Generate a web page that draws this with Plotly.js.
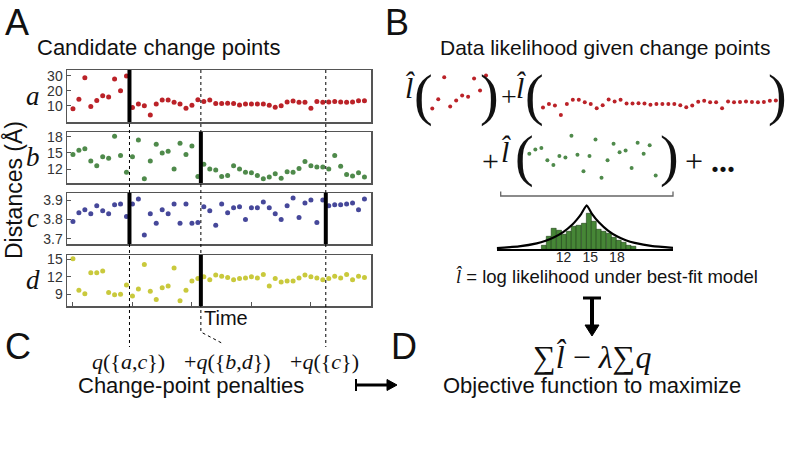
<!DOCTYPE html>
<html><head><meta charset="utf-8">
<script src="https://cdn.plot.ly/plotly-3.0.1.min.js"></script>
<style>html,body{margin:0;padding:0;background:#fff}#chart{width:793px;height:449px}</style>
</head><body><div id="chart"></div>
<script>
// ---------- data ----------
const timeIdx = [0,1,2,3,4,5,6,7,8,9,10,11,12,13,14,15,16,17,18,19,20,21,22,23,24,25,26,27,28,29,30,31,32,33,34,35,36,37,38,39,40,41,42,43,44,45,46,47,48,49];
const distA = [8.2,14.4,28.9,9.6,13.6,16.9,16,28,20.2,30, 8.9,11.3,10.2,4,11.3,14,14,12.4,11.3,8.4, 10.4,14.2,12.9,14,11.6,11.6,11.8,11.6,10.7,11.3, 11.3,11.3,11.3,10.4,9.1,10.2,12.7,13.3,12.4,12.4, 8.4,12.9,12.4,12.6,12.9,12.6,12.4,12.6,13.4,13.5];
const distB = [14.7,15.5,15.8,13.5,12.6,14.3,14,18.1,14.5,11.4, 14.3,17.4,10.2,13.5,16.6,15,15.3,12,16.8,14.7, 16.3,10.6,12.9,12,11.8,10.6,10.8,12.6,12,11.4, 11.3,10.8,10.2,10.5,11.1,10.3,11.5,11.4,12.1,13.4, 12.6,12.4,12.4,12,14.5,12.5,11,10.7,11.3,10.5];
const distC = [3.79,3.835,3.85,3.83,3.87,3.845,3.83,3.875,3.88,3.815, 3.88,3.905,3.72,3.83,3.78,3.85,3.83,3.88,3.78,3.88, 3.78,3.785,3.865,3.845,3.77,3.88,3.835,3.86,3.865,3.8, 3.86,3.86,3.89,3.86,3.83,3.8,3.87,3.91,3.81,3.885, 3.9,3.785,3.9,3.87,3.875,3.875,3.88,3.885,3.85,3.905];
const distD = [15.1,9.7,9.1,12.7,12.7,13,9.3,8.9,9,10.6, 8.7,9.9,14.1,9.5,8.1,10.1,10.4,13.5,7.9,9.7, 11.3,11.7,12,11.5,12.3,12.1,11.9,11.5,11.7,11.8, 12,11.8,12.4,10.4,11.7,11.1,11.3,11.3,11.8,12.3, 12,11.8,11.5,11.7,12.1,11.8,12.4,11.5,12.1,11.9];
const changePoints = [9.5, 21.5, 42.5];
const thickA = [9.5], thickB = [21.5], thickC = [9.5, 42.5], thickD = [21.5];
const ticksA = [10,20,30], ticksB = [12,15,18], ticksC = [3.7,3.8,3.9], ticksD = [9,12,15];
const ticksCtext = ['3.7','3.8','3.9'];
const histBins = [9.8,10.35,10.9,11.5,12.05,12.6,13.15,13.7,14.3,14.85,15.4,15.95,16.5,17.1,17.65,18.2,18.75,19.3,19.85];
const histCounts = [4,13,21,19,15,18,23,24,26,36,28,20,18,16,12,9,7,4,3];
const fitX = [4.5,7,9,10,11,12,13,13.5,14,14.6,15.2,16,17,18,19,20,22,24.3];
const fitY = [1.2,2.9,5.9,8.5,12.2,17.4,24.8,29.7,35.5,44,35.5,26.7,18.7,13,9.1,6.4,3.1,1.4];
const histTicks = [12,15,18];

// ---------- layout helpers ----------
const W = 793, H = 449;
const PX = x => x / W, PY = y => 1 - y / H;
const SANS = 'Liberation Sans, Arial, sans-serif';
const SERIF = 'Liberation Serif, Times New Roman, serif';
const RED = '#bb2228', GREEN = '#4f8a4b', BLUE = '#46489a', YELLOW = '#c9c93c';

const boxX = [PX(67), PX(371)];
const xRange = [-1, 50.1];
function leftX(anchor, withTicks) {
  return {domain: boxX, range: xRange, anchor, showgrid:false, zeroline:false, showline:true, mirror:true,
    linecolor:'#555', linewidth:1.5, showticklabels:false,
    ticks: withTicks ? 'inside' : '', tickvals: withTicks ? [0,10,20,30,40] : undefined, ticklen:4, tickcolor:'#555'};
}
function leftY(anchor, top, bot, range, tv, tt) {
  return {domain:[PY(bot), PY(top)], range, anchor, showgrid:false, zeroline:false, showline:true, mirror:true,
    linecolor:'#555', linewidth:1.5, ticks:'inside', ticklen:4, tickcolor:'#555', tickvals:tv, ticktext:tt,
    tickfont:{size:14, family:SANS, color:'#333'}};
}
function hidden(domain, range, anchor) {
  return {domain, range, anchor, visible:false, showgrid:false, zeroline:false};
}

const sc = (x, y, c, xa, ya, sz) => ({type:'scatter', mode:'markers', x, y, xaxis:xa, yaxis:ya,
  marker:{color:c, size:sz}, hoverinfo:'skip'});

const data = [
  sc(timeIdx, distA, RED, 'x', 'y', 5),
  sc(timeIdx, distB, GREEN, 'x2', 'y2', 5),
  sc(timeIdx, distC, BLUE, 'x3', 'y3', 5),
  sc(timeIdx, distD, YELLOW, 'x4', 'y4', 5),
  sc(timeIdx.slice(0,10), distA.slice(0,10), RED, 'x5', 'y5', 4),
  sc(timeIdx.slice(10), distA.slice(10), RED, 'x6', 'y6', 4),
  sc(timeIdx.slice(0,22), distB.slice(0,22), GREEN, 'x7', 'y7', 4),
  {type:'bar', x:histBins, y:histCounts, width:0.56, xaxis:'x8', yaxis:'y8',
   marker:{color:'#468636', line:{color:'#1f3f17', width:0.6}}, hoverinfo:'skip'},
  {type:'scatter', mode:'lines', x:fitX, y:fitY, xaxis:'x8', yaxis:'y8',
   line:{color:'#000', width:2.2, shape:'spline', smoothing:0.4}, hoverinfo:'skip'}
];

// ---------- shapes ----------
const shapes = [];
shapes.push({type:'line', xref:'x', yref:'paper', x0:changePoints[0], x1:changePoints[0], y0:PY(70), y1:PY(347), line:{color:'#000', width:1, dash:'dot'}});
shapes.push({type:'path', xref:'x', yref:'paper', path:`M ${changePoints[1]},${PY(70)} L ${changePoints[1]},${PY(332)} L 25,${PY(343)}`, line:{color:'#000', width:1, dash:'dot'}});
shapes.push({type:'line', xref:'x', yref:'paper', x0:changePoints[2], x1:changePoints[2], y0:PY(70), y1:PY(347), line:{color:'#000', width:1, dash:'dot'}});
[[thickA,'y'],[thickB,'y2'],[thickC,'y3'],[thickD,'y4']].forEach(([arr, ya]) => {
  arr.forEach(cp => shapes.push({type:'line', xref:'x', yref:ya+' domain', x0:cp, x1:cp, y0:0, y1:1, line:{color:'#000', width:4}}));
});
shapes.push({type:'path', xref:'paper', yref:'paper', path:`M ${PX(500.7)},${PY(191.5)} L ${PX(500.7)},${PY(196)} L ${PX(673)},${PY(196)} L ${PX(673)},${PY(191.5)}`, line:{color:'#666', width:1.3}});
shapes.push({type:'line', xref:'paper', yref:'paper', x0:PX(583), x1:PX(601), y0:PY(298), y1:PY(298), line:{color:'#000', width:3}});
shapes.push({type:'line', xref:'paper', yref:'paper', x0:PX(592), x1:PX(592), y0:PY(298), y1:PY(326), line:{color:'#000', width:4}});
shapes.push({type:'path', xref:'paper', yref:'paper', path:`M ${PX(585)},${PY(325)} L ${PX(599)},${PY(325)} L ${PX(592)},${PY(336)} Z`, fillcolor:'#000', line:{color:'#000', width:1}});
shapes.push({type:'line', xref:'paper', yref:'paper', x0:PX(356), x1:PX(388), y0:PY(385), y1:PY(385), line:{color:'#000', width:3}});
shapes.push({type:'line', xref:'paper', yref:'paper', x0:PX(356), x1:PX(356), y0:PY(379), y1:PY(391), line:{color:'#000', width:2}});
shapes.push({type:'path', xref:'paper', yref:'paper', path:`M ${PX(387)},${PY(379.5)} L ${PX(397)},${PY(385)} L ${PX(387)},${PY(390.5)} Z`, fillcolor:'#000', line:{color:'#000', width:1}});

// ---------- text ----------
function T(text, x, y, size, fam, o) {
  return Object.assign({text, x:PX(x), y:PY(y), xref:'paper', yref:'paper', showarrow:false,
    xanchor:'center', yanchor:'middle', font:{size, family:fam || SANS, color:'#111'}}, o || {});
}
const LHAT = '<i>l\u0302</i>';
const annotations = [
  T('A', 3, 22, 36, SANS, {xanchor:'left'}),
  T('B', 383, 22, 36, SANS, {xanchor:'left'}),
  T('C', 3, 346, 36, SANS, {xanchor:'left'}),
  T('D', 389, 346, 36, SANS, {xanchor:'left'}),
  T('Candidate change points', 158, 47, 22),
  T('Data likelihood given change points', 605, 47, 21),
  T('Distances (Å)', 13, 190, 23, SANS, {textangle:-90}),
  T('<i>a</i>', 33, 96, 27, SERIF),
  T('<i>b</i>', 33, 157, 27, SERIF),
  T('<i>c</i>', 33, 218, 27, SERIF),
  T('<i>d</i>', 33, 280, 27, SERIF),
  T('Time', 202, 318, 20, SANS, {xanchor:'left'}),
  T('<i>q</i>({<i>a</i>,<i>c</i>})', 128, 361, 22, SERIF),
  T('+<i>q</i>({<i>b</i>,<i>d</i>})', 227, 361, 22, SERIF),
  T('+<i>q</i>({<i>c</i>})', 324, 361, 22, SERIF),
  T('Change-point penalties', 191, 385, 22),
  T('Objective function to maximize', 592, 385, 22),
  T('∑' + LHAT + ' − <i>λ</i>∑<i>q</i>', 592, 357, 32, SERIF),
  T('<span style="font-family:Liberation Serif">' + LHAT + '</span> = log likelihood under best-fit model', 607, 276, 18.5),
  // formula row 1
  T(LHAT, 410, 88, 30, SERIF),
  T('(', 423, 96, 56, SERIF, {borderpad:0}),
  T(')', 489.5, 96, 56, SERIF, {borderpad:0}),
  T('+', 508.5, 97, 28, SERIF, {borderpad:0}),
  T(LHAT, 521, 88, 30, SERIF),
  T('(', 534, 96, 56, SERIF, {borderpad:0}),
  T(')', 777, 96, 56, SERIF),
  // formula row 2
  T('+', 490, 160, 30, SERIF),
  T(LHAT, 506, 151, 30, SERIF),
  T('(', 524, 156, 56, SERIF),
  T(')', 669, 156, 56, SERIF),
  T('+ <b>...</b>', 683, 161, 32, SERIF, {xanchor:'left'})
];

const layout = {
  width: W, height: H, margin:{l:0, r:0, t:0, b:0}, paper_bgcolor:'#fff', plot_bgcolor:'#fff',
  showlegend:false, hovermode:false, font:{family:SANS, color:'#111'},
  xaxis: leftX('y', false), xaxis2: leftX('y2', false), xaxis3: leftX('y3', false), xaxis4: leftX('y4', true),
  yaxis: leftY('x', 70, 122, [-0.7, 34], ticksA),
  yaxis2: leftY('x2', 132, 183, [9.4, 18.9], ticksB),
  yaxis3: leftY('x3', 193, 244, [3.674, 3.936], ticksC, ticksCtext),
  yaxis4: leftY('x4', 255, 306, [6.99, 15.74], ticksD),
  xaxis5: hidden([PX(426.3), PX(492)], [-1, 10], 'y5'),
  yaxis5: hidden([PY(121), PY(69.5)], [0, 34], 'x5'),
  xaxis6: hidden([PX(537), PX(781.8)], [9, 50], 'y6'),
  yaxis6: hidden([PY(121), PY(69.5)], [0, 34], 'x6'),
  xaxis7: hidden([PX(523.3), PX(661.7)], [-1, 22], 'y7'),
  yaxis7: hidden([PY(184), PY(131)], [9, 19], 'x7'),
  xaxis8: {domain:[PX(496.7), PX(673)], range:[4.5, 24.3], anchor:'y8', showgrid:false, zeroline:false,
    showline:true, linecolor:'#000', linewidth:2, ticks:'', tickvals:histTicks, ticklabelstandoff:-6,
    tickfont:{size:14, family:SANS, color:'#222'}},
  yaxis8: hidden([PY(249.3), PY(200)], [0, 49.3], 'x8'),
  bargap:0,
  shapes, annotations
};

Plotly.newPlot('chart', data, layout, {staticPlot:true, displayModeBar:false});
</script>
</body></html>
